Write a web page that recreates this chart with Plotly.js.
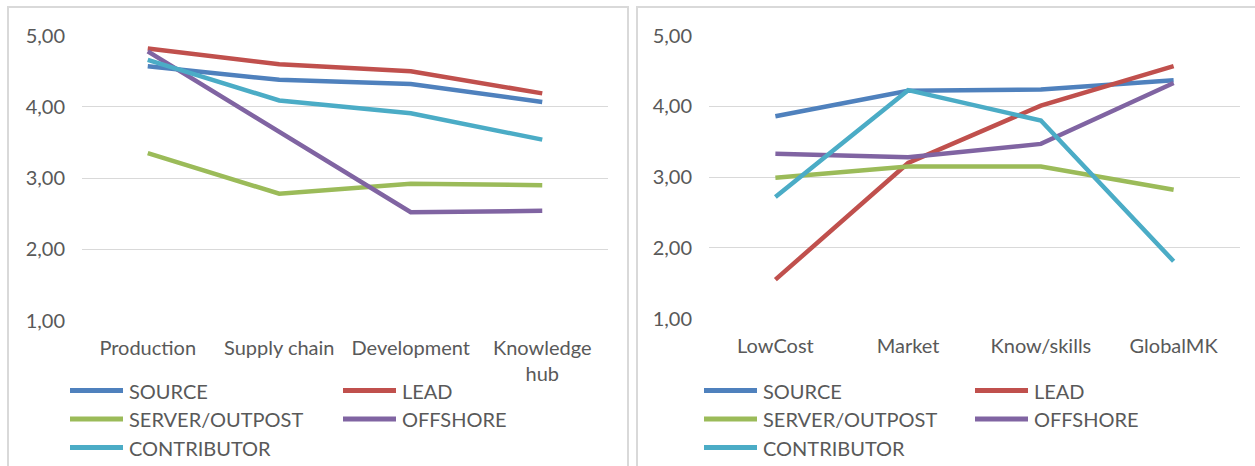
<!DOCTYPE html>
<html>
<head>
<meta charset="utf-8">
<script src="https://cdn.plot.ly/plotly-3.0.1.min.js"></script>
<style>
html,body{margin:0;padding:0;background:#fff;}
#chart{width:1255px;height:466px;}
</style>
</head>
<body>
<div id="chart"></div>
<script>
// ---- data ----
var seriesNames = ['SOURCE', 'LEAD', 'SERVER/OUTPOST', 'OFFSHORE', 'CONTRIBUTOR'];
var seriesColors = ['#4F81BD', '#C0504D', '#9BBB59', '#8064A2', '#4BACC6'];

var categoriesLeft = ['Production', 'Supply chain', 'Development', 'Knowledge<br>hub'];
var sourceLeft      = [4.57, 4.38, 4.32, 4.07];
var leadLeft        = [4.82, 4.60, 4.50, 4.19];
var serverLeft      = [3.35, 2.78, 2.92, 2.90];
var offshoreLeft    = [4.78, 3.65, 2.52, 2.54];
var contributorLeft = [4.66, 4.09, 3.91, 3.54];

var categoriesRight = ['LowCost', 'Market', 'Know/skills', 'GlobalMK'];
var sourceRight      = [3.86, 4.22, 4.24, 4.37];
var leadRight        = [1.55, 3.20, 4.01, 4.57];
var serverRight      = [2.99, 3.15, 3.15, 2.82];
var offshoreRight    = [3.33, 3.28, 3.47, 4.33];
var contributorRight = [2.72, 4.23, 3.80, 1.81];

var yTickVals = [1, 2, 3, 4, 5];

// ---- build ----
var W = 1255, H = 466;
var FONT = 'Lato, "Open Sans", sans-serif';
var TXT = '#595959';
var leftSeries = [sourceLeft, leadLeft, serverLeft, offshoreLeft, contributorLeft];
var rightSeries = [sourceRight, leadRight, serverRight, offshoreRight, contributorRight];

var traces = [];
seriesNames.forEach(function (name, i) {
  traces.push({x: categoriesLeft, y: leftSeries[i], type: 'scatter', mode: 'lines', name: name,
    xaxis: 'x', yaxis: 'y', showlegend: false, hoverinfo: 'skip',
    line: {color: seriesColors[i], width: 4.5}});
});
seriesNames.forEach(function (name, i) {
  traces.push({x: categoriesRight, y: rightSeries[i], type: 'scatter', mode: 'lines', name: name,
    xaxis: 'x2', yaxis: 'y2', showlegend: false, hoverinfo: 'skip',
    line: {color: seriesColors[i], width: 4.5}});
});

function px(x) { return x / W; }
function py(y) { return 1 - y / H; }

var shapes = [
  {type: 'rect', xref: 'paper', yref: 'paper', x0: px(8), x1: px(628), y0: -0.1, y1: py(7),
   line: {color: '#d9d9d9', width: 2}, fillcolor: 'rgba(0,0,0,0)', layer: 'below'},
  {type: 'rect', xref: 'paper', yref: 'paper', x0: px(637), x1: 1.1, y0: -0.1, y1: py(7),
   line: {color: '#d9d9d9', width: 2}, fillcolor: 'rgba(0,0,0,0)', layer: 'below'}
];
var annotations = [];

// manual legends (two columns, three rows) for each panel
var legendRows = [390.5, 419, 447.5];
function addLegend(col1Line, col2Line) {
  seriesNames.forEach(function (name, i) {
    var row = Math.floor(i / 2), col = i % 2;
    var lx = col === 0 ? col1Line : col2Line;
    var y = legendRows[row];
    shapes.push({type: 'line', xref: 'paper', yref: 'paper', x0: px(lx), x1: px(lx + 53),
      y0: py(y), y1: py(y), line: {color: seriesColors[i], width: 5}});
    annotations.push({xref: 'paper', yref: 'paper', x: px(lx + 57), y: py(y),
      xanchor: 'left', yanchor: 'middle', showarrow: false, text: name,
      font: {family: FONT, size: 20, color: TXT}});
  });
}
addLegend(70, 343);
addLegend(704, 975);

var axisY = {
  range: [1, 5], tickvals: yTickVals, tickformat: '.2f', showline: false, zeroline: false,
  gridcolor: '#d9d9d9', gridwidth: 1, ticks: '', ticklabelstandoff: 16,
  tickfont: {family: FONT, size: 20, color: TXT}, fixedrange: true
};
var axisX = {
  type: 'category', range: [-0.5, 3.5], showgrid: false, zeroline: false, showline: false,
  ticks: '', ticklabelstandoff: 13, tickfont: {family: FONT, size: 20, color: TXT}, fixedrange: true
};

var layout = {
  width: W, height: H,
  margin: {l: 0, r: 0, t: 0, b: 0},
  paper_bgcolor: '#ffffff', plot_bgcolor: '#ffffff',
  separators: ', ',
  showlegend: false,
  font: {family: FONT, color: TXT},
  xaxis: Object.assign({}, axisX, {domain: [px(82), px(608)], anchor: 'y'}),
  yaxis: Object.assign({}, axisY, {domain: [py(320.5), py(35.7)], anchor: 'x'}),
  xaxis2: Object.assign({}, axisX, {domain: [px(709), px(1240)], anchor: 'y2'}),
  yaxis2: Object.assign({}, axisY, {domain: [py(318.5), py(35.7)], anchor: 'x2'}),
  shapes: shapes,
  annotations: annotations
};

Plotly.newPlot('chart', traces, layout, {displayModeBar: false, staticPlot: true});
</script>
</body>
</html>
